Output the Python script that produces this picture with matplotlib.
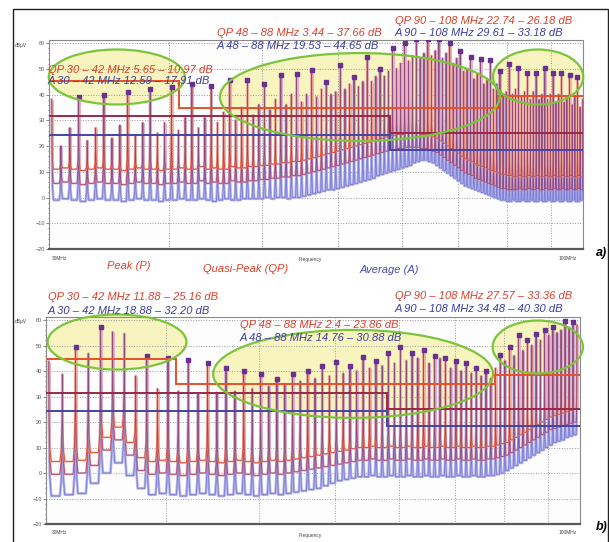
import matplotlib.pyplot as plt
from matplotlib.patches import Ellipse, Rectangle
from matplotlib.ticker import NullLocator, MultipleLocator

plt.rcParams['font.family'] = ['Liberation Sans', 'DejaVu Sans']

W, H = 609, 542

# --- panel a): harmonic comb (MHz), level at each harmonic (dBuV)
# and the valley floor after each harmonic for Peak / QP / Average
a_freq = [30.20, 30.87, 31.54, 32.21, 32.88, 33.55, 34.22, 34.89, 35.56,
          36.23, 36.90, 37.57, 38.24, 38.91, 39.58, 40.25, 40.92, 41.59,
          42.26, 42.93, 43.60, 44.27, 44.94, 45.61, 46.28, 46.95, 47.62,
          48.29, 48.96, 49.63, 50.30, 50.97, 51.64, 52.31, 52.98, 53.65,
          54.32, 54.99, 55.66, 56.33, 57.00, 57.67, 58.34, 59.01, 59.68,
          60.35, 61.02, 61.69, 62.36, 63.03, 63.70, 64.37, 65.04, 65.71,
          66.38, 67.05, 67.72, 68.39, 69.06, 69.73, 70.40, 71.07, 71.74,
          72.41, 73.08, 73.75, 74.42, 75.09, 75.76, 76.43, 77.10, 77.77,
          78.44, 79.11, 79.78, 80.45, 81.12, 81.79, 82.46, 83.13, 83.80,
          84.47, 85.14, 85.81, 86.48, 87.15, 87.82, 88.49, 89.16, 89.83,
          90.50, 91.17, 91.84, 92.51, 93.18, 93.85, 94.52, 95.19, 95.86,
          96.53, 97.20, 97.87, 98.54, 99.21, 99.88, 100.55, 101.22, 101.89,
          102.56, 103.23, 103.90, 104.57, 105.24, 105.91, 106.58, 107.25, 107.92]
a_top = [38, 20, 27, 39, 22, 27, 40, 23, 28,
         41, 24, 29, 42, 25, 29, 43, 26, 31,
         44, 27, 31, 43.5, 29, 33, 45.5, 30, 35,
         45.5, 32, 36, 44, 34, 38, 47.5, 36, 40,
         48, 37, 40, 49.5, 39, 42, 45, 40, 41,
         51.5, 42, 44, 47, 43, 45, 54.5, 45, 47,
         50, 47, 49, 58, 50, 52, 60, 53, 55,
         61.5, 54, 56, 61.5, 55, 57, 61.5, 54, 56,
         60, 52, 54, 57, 49, 50, 54.5, 46, 48,
         54, 44, 46, 53.5, 42, 44, 49, 40, 41,
         52, 40, 42, 50.5, 39, 41, 48.5, 38, 41,
         48.5, 38, 40, 50.3, 38, 40, 48.5, 37, 40,
         48.5, 37, 39, 47.5, 36, 39, 47, 35, 38]
a_floor_pk = [11, 11.5, 11, 10.5, 11, 11.5, 11, 11, 10.5,
              11, 11.5, 11, 11, 10.5, 11, 11, 11.5, 11,
              11, 12, 11, 11.5, 11, 11, 12, 11.5, 11.5,
              12, 12, 12.5, 12.5, 13, 13, 13.5, 13.5, 14,
              14, 14.5, 15, 15.5, 16, 16.5, 17, 17.5, 18,
              18.5, 19, 19.5, 20, 20.5, 21, 21.5, 22, 22.5,
              23, 23.5, 24, 24, 24.5, 24.5, 25, 25, 25,
              25, 24.5, 24.5, 24, 23.5, 23, 22, 21, 20,
              19, 18, 17, 16, 15, 14.5, 14, 13, 12.5,
              12, 11.5, 11, 10.5, 10, 9.5, 9, 9, 8.5,
              8.5, 8, 8, 8.5, 8, 8, 8.5, 8, 8,
              8.5, 8, 8, 8.5, 8, 8, 8.5, 8, 8,
              8.5, 8, 8, 8.5, 8, 8, 8.5, 8, 8]
a_floor_qp = [5.5, 6, 5.5, 5, 5.5, 6, 5.5, 5.5, 5,
              5.5, 6, 5.5, 5.5, 5, 5.5, 5.5, 6, 5.5,
              5.5, 6.5, 5.5, 6, 5.5, 5.5, 6.5, 6, 6,
              6.5, 6.5, 7, 7, 7.5, 7.5, 8, 8, 8.5,
              8.5, 9, 9.5, 10, 10.5, 11, 11.5, 12, 12.5,
              13, 13.5, 14, 14.5, 15, 15.5, 16, 16.5, 17,
              17.5, 18, 18.5, 18.5, 19, 19, 19.5, 19.5, 19.5,
              19.5, 19, 19, 18.5, 18, 17.5, 16.5, 15.5, 14.5,
              13.5, 12.5, 11.5, 10.5, 9.5, 9, 8.5, 7.5, 7,
              6.5, 6, 5.5, 5, 4.5, 4, 3.5, 3.5, 3,
              3, 3, 3, 3.5, 3, 3, 3.5, 3, 3,
              3.5, 3, 3, 3.5, 3, 3, 3.5, 3, 3,
              3.5, 3, 3, 3.5, 3, 3, 3.5, 3, 3]
a_floor_av = [-1, -0.5, -1, -1.5, -1, -0.5, -1, -1, -1.5,
              -1, -0.5, -1, -1, -1.5, -1, -1, -0.5, -1,
              -1, -0.5, -1, -1.5, -1, -0.5, -1, -1, -0.5,
              -0.5, -0.5, -0.5, 0, -0.5, 0, 0, -0.5, 0,
              0, 0.5, 1, 1.5, 2, 2.5, 3, 3, 3.5,
              4, 4.5, 5, 5.5, 6, 6.5, 7, 7.5, 8.5,
              9, 9.5, 10, 10.5, 11, 11.5, 12, 12.5, 13.5,
              14, 14.5, 14.5, 14, 13.5, 12.5, 11.5, 10.5, 9.5,
              8.5, 7.5, 6.5, 5.5, 4.5, 4, 3.5, 3, 2.5,
              2, 1.5, 1, 0.5, 0, -0.5, -1, -1, -1.5,
              -1.5, -1, -1.5, -1.5, -1, -1.5, -1.5, -1, -1.5,
              -1.5, -1, -1.5, -1.5, -1, -1.5, -1.5, -1, -1.5,
              -1.5, -1, -1.5, -1.5, -1, -1.5, -1.5, -1, -1.5]

# --- panel b)
b_freq = [30.2, 31.2, 32.2, 33.2, 34.2, 35.2, 36.2, 37.2, 38.2, 39.2,
          40.2, 41.2, 42.2, 43.2, 44.2, 45.2, 46.2, 47.2, 48.2, 49.2,
          50.2, 51.2, 52.2, 53.2, 54.2, 55.2, 56.2, 57.2, 58.2, 59.2,
          60.2, 61.2, 62.2, 63.2, 64.2, 65.2, 66.2, 67.2, 68.2, 69.2,
          70.2, 71.2, 72.2, 73.2, 74.2, 75.2, 76.2, 77.2, 78.2, 79.2,
          80.2, 81.2, 82.2, 83.2, 84.2, 85.2, 86.2, 87.2, 88.2, 89.2,
          90.2, 91.2, 92.2, 93.2, 94.2, 95.2, 96.2, 97.2, 98.2, 99.2,
          100.2, 101.2, 102.2, 103.2, 104.2, 105.2, 106.2, 107.2]
b_top = [43.7, 38.6, 49.5, 46.8, 57.3, 55.3, 54.6, 38, 46, 33,
         45.3, 32, 44.5, 31, 43, 31.5, 41, 32, 40.2, 33,
         39, 34, 37, 35, 39, 36, 40, 37, 42, 38,
         43.7, 39, 42, 40, 45.6, 41, 44, 42, 47, 43,
         49.5, 44, 47, 45, 48.3, 43, 46, 44.9, 45, 41,
         44, 40, 43, 39, 41, 38, 40, 37, 41, 46.4,
         44, 49.5, 46, 54.2, 48, 52, 50, 54.6, 52, 56.1,
         54, 57.3, 55, 56, 59.6, 57, 59.2, 58]
b_floor_pk = [4.5, 4.5, 5, 8, 14, 18, 12, 6, 4.5, 5,
              4.5, 4, 4.5, 5, 4.5, 4, 4.5, 5, 4.5, 4,
              4.5, 5, 4.5, 5, 5.5, 6, 6.5, 7, 7.5, 8,
              8.5, 9, 9.5, 10, 10, 10.5, 10, 10, 10.5, 10,
              10, 10.5, 10, 10, 10.5, 10, 10, 10.5, 10, 10,
              10.5, 10, 10, 10.5, 10, 10, 10.5, 10.5, 11, 11.5,
              12, 13, 14, 15, 16, 17, 18, 19, 20, 21,
              22, 22.5, 23, 23.5, 24, 24.5, 25, 25.5]
b_floor_qp = [-0.5, -0.5, 0, 3, 9, 13, 7, 1, -0.5, 0,
              -0.5, -1, -0.5, 0, -0.5, -1, -0.5, 0, -0.5, -1,
              -0.5, 0, -0.5, 0, 0.5, 1, 1.5, 2, 2.5, 3,
              3.5, 4, 4.5, 5, 5, 5.5, 5, 5, 5.5, 5,
              5, 5.5, 5, 5, 5.5, 5, 5, 5.5, 5, 5,
              5.5, 5, 5, 5.5, 5, 5, 5.5, 5.5, 6, 6.5,
              7, 8, 9, 10, 11, 12, 13, 14, 15, 16,
              17, 17.5, 18, 18.5, 19, 19.5, 20, 20.5]
b_floor_av = [-9, -8.5, -8, -4, 0, 4, -1, -6, -8.5, -8,
              -8.5, -9, -8.5, -8, -8.5, -9, -8.5, -8, -8.5, -9,
              -8.5, -8, -8.5, -8, -7.5, -7, -6.5, -6, -5, -4,
              -3, -2.5, -2, -1.5, -1.5, -1, -1.5, -1.5, -1, -1.5,
              -1.5, -1, -1.5, -1.5, -1, -1.5, -1.5, -1, -1.5, -1.5,
              -1, -1.5, -1.5, -1, -1.5, -1.5, -1, -1, -0.5, 0,
              1, 2, 3, 4, 5, 6, 7, 8, 9, 10,
              11, 12, 12.5, 13, 14, 14.5, 15, 16]

# limit lines: band edges (MHz) and levels (dBuV)
qp_edges = [30, 41, 88, 108]
a_qp_lim = [45.2, 34.8, 39.5]
b_qp_lim = [44.9, 34.8, 38.6]
lo_edges = [30, 68, 108]
a_pk_lim = [31.7, 25.0]
b_pk_lim = [31.3, 25.0]
a_av_lim = [24.3, 18.5]
b_av_lim = [24.3, 18.4]

# annotation texts
a_notes = [("QP 30 – 42 MHz 5.65 – 10.97 dB", 48, 70, 'r'),
           ("A 30 – 42 MHz 12.59 – 17.91 dB", 48, 81, 'b'),
           ("QP 48 – 88 MHz 3.44 – 37.66 dB", 217, 33, 'r'),
           ("A 48 – 88 MHz 19.53 – 44.65 dB", 217, 46, 'b'),
           ("QP 90 – 108 MHz 22.74 – 26.18 dB", 395, 21, 'r'),
           ("A 90 – 108 MHz 29.61 – 33.18 dB", 395, 33, 'b')]
b_notes = [("QP 30 – 42 MHz 11.88 – 25.16 dB", 48, 297, 'r'),
           ("A 30 – 42 MHz 18.88 – 32.20 dB", 48, 311, 'b'),
           ("QP 48 – 88 MHz 2.4 – 23.86 dB", 240, 325, 'r'),
           ("A 48 – 88 MHz 14.76 – 30.88 dB", 240, 338, 'b'),
           ("QP 90 – 108 MHz 27.57 – 33.36 dB", 395, 296, 'r'),
           ("A 90 – 108 MHz 34.48 – 40.30 dB", 395, 309, 'b')]

# highlighted regions (axes fraction: cx, cy, w, h)
a_rings = [(0.127, 0.823, 0.255, 0.263), (0.582, 0.727, 0.524, 0.421),
           (0.916, 0.823, 0.169, 0.263)]
b_rings = [(0.133, 0.879, 0.260, 0.266), (0.575, 0.725, 0.524, 0.425),
           (0.921, 0.855, 0.169, 0.256)]

RED = '#d9402c'
BLUE = '#3c3ca0'


def comb(f, top, floor):
    # steep-walled U valley between neighbouring harmonics
    xs, ys = [], []
    for i in range(len(f)):
        xs.append(f[i])
        ys.append(top[i])
        if i < len(f) - 1:
            g = f[i + 1] - f[i]
            v = floor[i]
            t0, t1 = top[i] - v, top[i + 1] - v
            xs += [f[i] + 0.02 * g, f[i] + 0.07 * g, f[i] + 0.18 * g,
                   f[i + 1] - 0.18 * g, f[i + 1] - 0.07 * g, f[i + 1] - 0.02 * g]
            ys += [v + 0.5 * t0, v + 0.15 * t0, v,
                   v, v + 0.15 * t1, v + 0.5 * t1]
    return xs, ys


def panel(ax, freq, top, fl_pk, fl_qp, fl_av, qp_lim, pk_lim, av_lim, rings):
    ax.set_xscale('log')
    ax.set_xlim(30, 108)
    ax.set_ylim(-20, 61.2)
    ax.set_facecolor('#fdfdfd')

    for cx, cy, w, h in rings:
        ax.add_patch(Ellipse((cx, cy), w, h, transform=ax.transAxes,
                             facecolor='#f6f3b4', edgecolor='none',
                             alpha=0.85, zorder=0.5, clip_on=False))
        ax.add_patch(Ellipse((cx, cy), w, h, transform=ax.transAxes,
                             facecolor='none', edgecolor='#7cc43c',
                             lw=1.6, zorder=6, clip_on=False))

    # soft pink body of every harmonic line
    ax.vlines(freq, fl_pk, top, color='#e6b4c4', lw=2.2, zorder=1.8)

    x_av, y_av = comb(freq, top, fl_av)
    ax.plot(x_av, y_av, color='#b2b2ea', lw=1.9, zorder=2)
    x, y = comb(freq, top, fl_qp)
    ax.plot(x, y, color='#deaabc', lw=1.5, zorder=2.2)
    ax.plot(x, y, color='#b04a6c', lw=0.6, zorder=2.3)
    x, y = comb(freq, top, fl_pk)
    ax.plot(x, y, color='#f3b09c', lw=1.3, zorder=2.4)
    ax.plot(x, y, color='#e2462a', lw=0.6, zorder=2.5)
    ax.plot(x_av, y_av, color='#5050c0', lw=0.6, alpha=0.55, zorder=2.6)

    tall = [i for i in range(1, len(top) - 1)
            if top[i] >= top[i - 1] and top[i] >= top[i + 1]]
    ax.plot([freq[i] for i in tall], [top[i] for i in tall], 's',
            color='#6a3090', ms=2.2, zorder=3)

    ax.stairs(qp_lim, qp_edges, baseline=None, color='#e8502a', lw=1.4, zorder=4)
    ax.stairs(pk_lim, lo_edges, baseline=None, color='#9a2848', lw=1.4, zorder=4)
    ax.stairs(av_lim, lo_edges, baseline=None, color='#4444a8', lw=1.4, zorder=4)

    ax.set_xticks([40, 50, 60, 70, 80, 90, 100])
    ax.xaxis.set_minor_locator(NullLocator())
    ax.set_xticklabels([])
    ax.tick_params(axis='x', length=0)
    ax.set_yticks(range(-20, 61, 10))
    ax.yaxis.set_minor_locator(MultipleLocator(2))
    ax.tick_params(axis='y', labelsize=4, length=2, width=0.5, pad=1,
                   colors='#555555', which='both')
    ax.tick_params(axis='y', which='minor', length=1)
    ax.grid(True, ls=':', color='#9a9a9a', lw=0.7, zorder=0)
    for s in ax.spines.values():
        s.set_color('#8a8a8a')
        s.set_linewidth(0.8)
    ax.spines['bottom'].set_color('#5a5a5a')
    ax.spines['bottom'].set_linewidth(1.6)


fig = plt.figure(figsize=(W / 100, H / 100), dpi=100)
fig.patch.set_facecolor('white')

ax_a = fig.add_axes([49 / W, 1 - 249 / H, 534 / W, 209 / H])
ax_b = fig.add_axes([46 / W, 1 - 524 / H, 534 / W, 207 / H])
panel(ax_a, a_freq, a_top, a_floor_pk, a_floor_qp, a_floor_av,
      a_qp_lim, a_pk_lim, a_av_lim, a_rings)
panel(ax_b, b_freq, b_top, b_floor_pk, b_floor_qp, b_floor_av,
      b_qp_lim, b_pk_lim, b_av_lim, b_rings)


def px(x, y):
    return x / W, 1 - y / H


for notes in (a_notes, b_notes):
    for s, x, y, c in notes:
        fig.text(*px(x, y), s, color=RED if c == 'r' else BLUE,
                 fontsize=8, style='italic', va='center', ha='left', zorder=7)

for y0, ybot in ((45, 258), (322, 533)):
    fig.text(*px(15, y0), 'dBµV', fontsize=3.5, color='#444444', va='center')
    fig.text(*px(52, ybot), '30MHz', fontsize=3.5, color='#444444', va='center')
    fig.text(*px(568, ybot), '100MHz', fontsize=3.5, color='#444444',
             va='center', ha='center')
    fig.text(*px(310, ybot + 2), 'Frequency', fontsize=3.5, color='#444444',
             va='center', ha='center')

fig.text(*px(107, 266), 'Peak (P)', color=RED, fontsize=8, style='italic', va='center')
fig.text(*px(203, 269), 'Quasi-Peak (QP)', color=RED, fontsize=8, style='italic', va='center')
fig.text(*px(360, 270), 'Average (A)', color='#4848b0', fontsize=8, style='italic', va='center')
fig.text(*px(596, 253), 'a)', fontsize=9, style='italic', weight='bold', va='center')
fig.text(*px(596, 527), 'b)', fontsize=9, style='italic', weight='bold', va='center')

fig.add_artist(Rectangle(px(13, 560), (608 - 13) / W, (560 - 9) / H,
                         transform=fig.transFigure, fill=False,
                         edgecolor='#222222', lw=1.0))

fig.savefig('out.png', dpi=100)
